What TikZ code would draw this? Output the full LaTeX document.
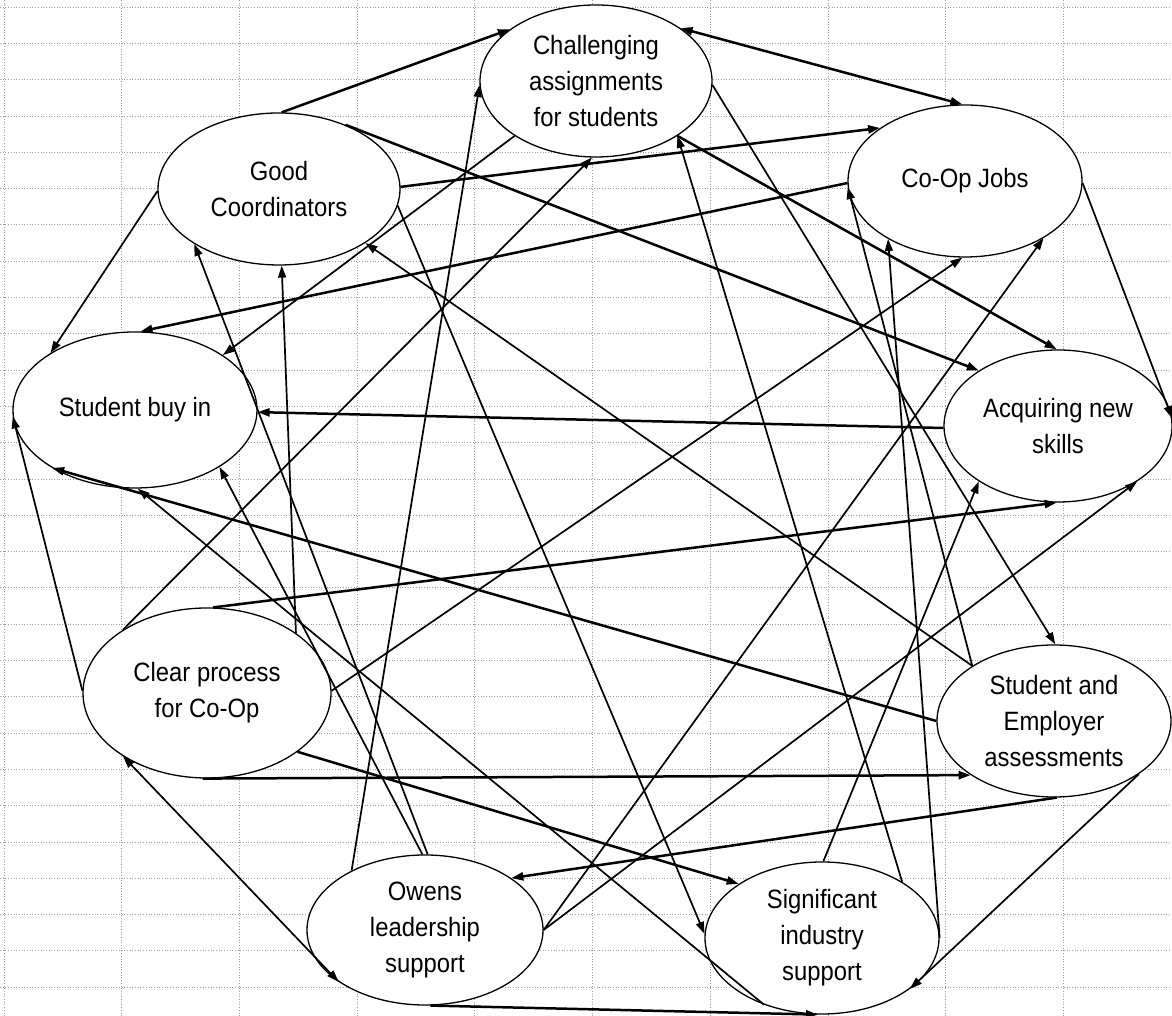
\documentclass[tikz,border=0pt]{standalone}
\usepackage{fontspec}
\setmainfont{Liberation Sans}[FakeStretch=0.9]
\usetikzlibrary{arrows.meta,shapes.geometric}
\begin{document}
\begin{tikzpicture}[x=1pt,y=1pt,
  bub/.style={draw, ellipse, fill=white, line width=1.3pt, inner sep=0pt, align=center,
    font=\fontsize{26.5}{36}\selectfont},
  tip/.style={-{Triangle[length=12pt,width=8pt]}},
  con/.style={line width=1.7pt, tip},
  heavy/.style={line width=2.5pt, tip},
  both/.style={{Triangle[length=12pt,width=8pt]}-{Triangle[length=12pt,width=8pt]}},
  gridl/.style={black!38, dotted, line width=0.7pt}]
\useasboundingbox (0,0) rectangle (1172,1016);
\fill[white] (0,0) rectangle (1172,1016);
% spreadsheet grid
\foreach \k in {0,...,27} \draw[gridl] (0,{1009-36.3*\k}) -- (1172,{1009-36.3*\k});
\foreach \k in {0,...,9} \draw[gridl] ({4+117.7*\k},0) -- ({4+117.7*\k},1016);
% nodes
\node[bub, minimum width=232pt, minimum height=152pt] (ch) at (596,935) {Challenging\\assignments\\for students};
\node[bub, minimum width=242pt, minimum height=152pt] (gc) at (279,827) {Good\\Coordinators};
\node[bub, minimum width=234pt, minimum height=152pt] (cj) at (965,835) {Co-Op Jobs};
\node[bub, minimum width=244pt, minimum height=156pt] (sbi) at (135,606) {Student buy in};
\node[bub, minimum width=228pt, minimum height=152pt] (an) at (1058,590) {Acquiring new\\skills};
\node[bub, minimum width=248pt, minimum height=170pt] (cl) at (207,323) {Clear process\\for Co-Op};
\node[bub, minimum width=234pt, minimum height=152pt] (se) at (1054,295) {Student and\\Employer\\assessments};
\node[bub, minimum width=236pt, minimum height=150pt] (ow) at (425,86) {Owens\\leadership\\support};
\node[bub, minimum width=234pt, minimum height=152pt] (si) at (822,78) {Significant\\industry\\support};
% connectors
\draw[heavy] (gc.88) -- (ch.149);
\draw[heavy, both] (ch.32) -- (cj.92);
\draw[heavy] (gc.1) -- (cj.148);
\draw[heavy] (gc.44) -- (an.145);
\draw[con] (gc.181) -- (sbi.146);
\draw[con] (gc.-8) -- (si.178);
\draw[con] (ch.214) -- (sbi.32);
\draw[con] (ch.-2) -- (se.89);
\draw[heavy] (ch.-34) -- (an.91);
\draw[heavy] (cj.181) -- (sbi.86);
\draw[con] (cj.-1) -- (an.4);
\draw[heavy] (an.181) -- (sbi.-1);
\draw[con] (cl.143) -- (ch.267);
\draw[con] (cl.34) -- (gc.-88);
\draw[heavy] (cl.86) -- (an.-91);
\draw[con] (cl.1) -- (cj.-92);
\draw[con] (cl.179) -- (sbi.183);
\draw[heavy] (cl.-33) -- (si.147);
\draw[heavy] (cl.-93) -- (se.213);
\draw[con, both] (cl.217) -- (ow.211);
\draw[heavy] (se.180) -- (sbi.215);
\draw[con] (se.146) -- (gc.-32);
\draw[con] (se.146) -- (cj.183);
\draw[heavy] (se.-88) -- (ow.31);
\draw[con] (se.-32) -- (si.-30);
\draw[con] (ow.88) -- (gc.213);
\draw[con] (ow.92) -- (sbi.-34);
\draw[con] (ow.141) -- (ch.182);
\draw[con] (ow.0) -- (cj.-36);
\draw[con] (ow.0) -- (an.-35);
\draw[heavy] (ow.-86) -- (si.-93);
\draw[con] (si.89) -- (an.215);
\draw[con] (si.35) -- (ch.-34);
\draw[con] (si.0) -- (cj.217);
\draw[con] (si.229) -- (sbi.-88);
\end{tikzpicture}
\end{document}
